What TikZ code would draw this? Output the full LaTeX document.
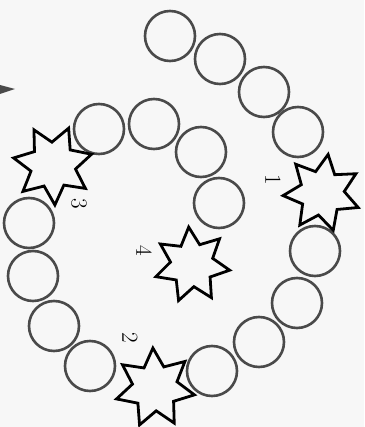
\documentclass[tikz,border=0pt]{standalone}
\usepackage{tikz}
\usetikzlibrary{shapes.geometric}
\definecolor{ringCol}{HTML}{4A4A4A}
\definecolor{paperCol}{HTML}{F7F7F7}

\begin{document}
\begin{tikzpicture}[x=1pt,y=-1pt,
  ring/.style={circle,draw=ringCol,line width=2.6pt,minimum size=50pt,inner sep=0pt},
  burst/.style={star,star points=7,star point ratio=1.75,draw=black,fill=paperCol,
    line width=2.8pt,minimum size=#1,inner sep=0pt},
  num/.style={font=\fontsize{23}{23}\selectfont,rotate=-90,inner sep=0pt},
]

\useasboundingbox[fill=paperCol] (0,0) rectangle (364,427);

% spiral of rings
\foreach \i/\x/\y in {1/170/36,2/220/59,3/264/92,4/298/132,5/315/251,6/297/303,
  7/259/342,8/212/371,9/90/366,10/54/326,11/33/276,12/29/223,
  13/99/129,14/154/124,15/201/152,16/219/203}
  \node[ring] (c\i) at (\x,\y) {};

% stars
\node[burst=78pt,shape border rotate=-9] (s1) at (322,193) {};
\node[burst=80pt,shape border rotate=3] (s2) at (155,388) {};
\node[burst=80pt,shape border rotate=-23] (s3) at (53,165) {};
\node[burst=76pt,shape border rotate=5] (s4) at (192,265) {};

\node[num] (n1) at (273,180) {1};
\node[num] (n2) at (130,338) {2};
\node[num] (n3) at (79,204) {3};
\node[num] (n4) at (144,251) {4};

% tip at the left edge
\fill[ringCol] (0,85) -- (15,89) -- (0,94) -- cycle;

\end{tikzpicture}
\end{document}
